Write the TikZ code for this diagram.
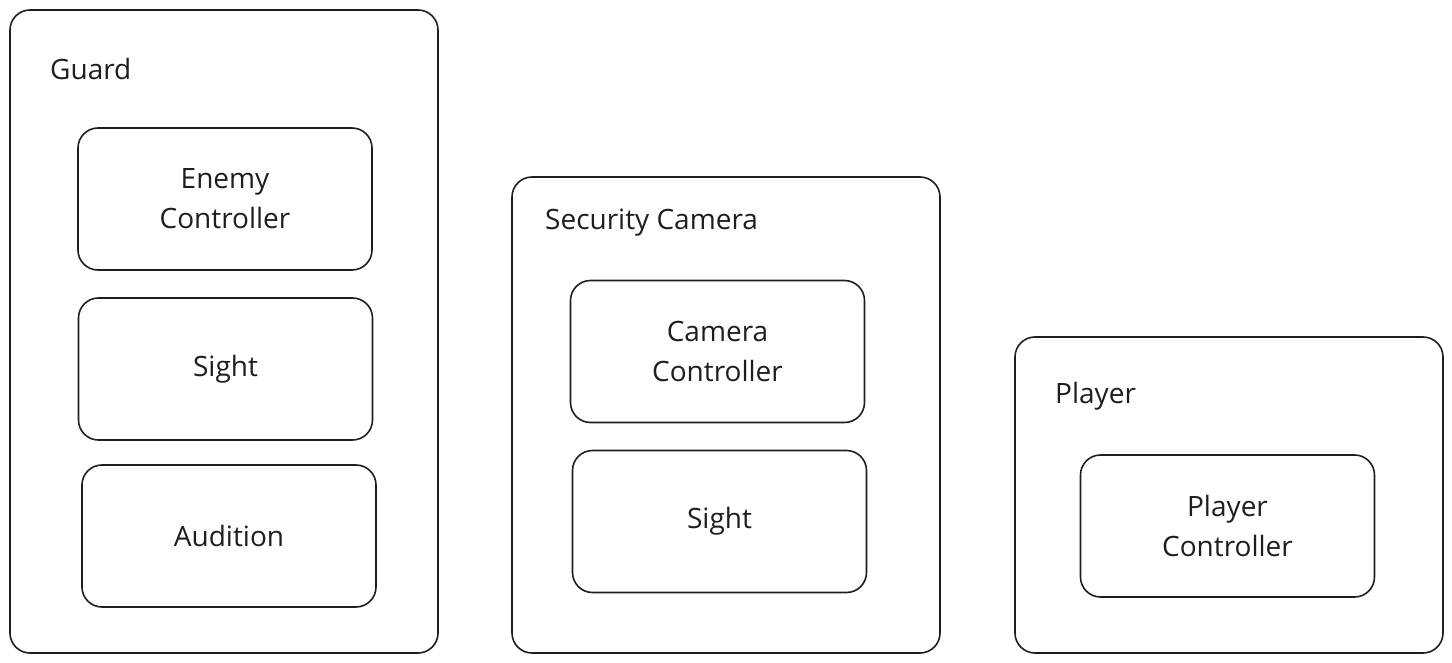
\documentclass[tikz,border=0pt]{standalone}
\usepackage{fontspec}
\setmainfont{Open Sans}
\definecolor{ink}{HTML}{1E1E1E}
\begin{document}
\begin{tikzpicture}[x=1pt, y=-1pt,
  group/.style={draw=ink, line width=1.6pt, rounded corners=20pt, minimum width=428pt},
  part/.style={draw=ink, line width=1.6pt, rounded corners=20pt, minimum width=294pt, minimum height=142pt,
    align=center, text=ink, font=\fontsize{28}{40}\selectfont},
  title/.style={anchor=base west, inner sep=0pt, text=ink, font=\fontsize{28}{34}\selectfont}
]
\useasboundingbox (0,0) rectangle (1452,663);
% groups
\node[group, minimum height=643pt] (guard) at (224,331.5) {};
\node[group, minimum height=476pt] (camera) at (726,415) {};
\node[group, minimum height=316pt] (player) at (1229,495) {};
\node[title] (guardtitle) at (50,80) {Guard};
\node[title] (cameratitle) at (545,230) {Security Camera};
\node[title] (playertitle) at (1055,403) {Player};
% parts
\node[part] (enemyctrl) at (225,199) {Enemy\\Controller};
\node[part] (guardsight) at (225.5,369) {Sight};
\node[part] (audition) at (229,536) {Audition};
\node[part] (cameractrl) at (717.5,351.5) {Camera\\Controller};
\node[part] (camerasight) at (719.5,521.5) {Sight};
\node[part] (playerctrl) at (1227.5,526) {Player\\Controller};
\end{tikzpicture}
\end{document}
